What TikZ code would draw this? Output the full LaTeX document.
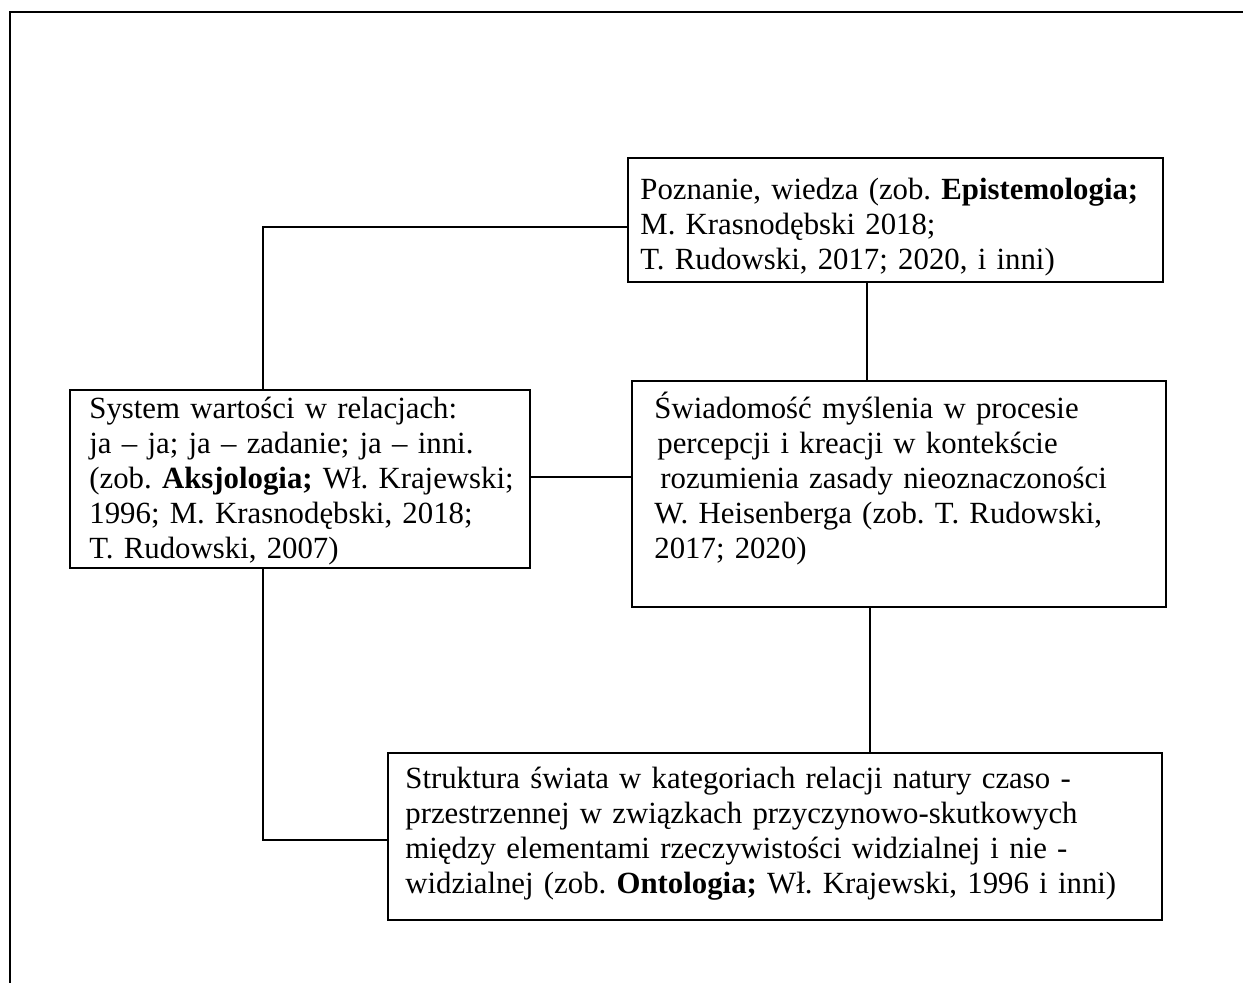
\documentclass[tikz,border=0pt]{standalone}
\usepackage{fontspec}
\setmainfont{Liberation Serif}
\begin{document}
\frenchspacing
\begin{tikzpicture}[x=0.5pt,y=-0.5pt,
  box/.style={draw, line width=0.9pt, anchor=north west, inner sep=0pt, outer sep=0pt},
  txt/.style={anchor=base west, inner sep=0pt, align=left, text width=450pt, font=\fontsize{15.4}{17.5}\selectfont\frenchspacing},
  conn/.style={line width=0.9pt}]
\useasboundingbox (0,0) rectangle (1243,983);
\draw[conn] (1243,12) -- (10,12) -- (10,983);
% boxes
\node[box, minimum width=267.5pt, minimum height=62pt] (top) at (628,158) {};
\node[box, minimum width=230pt, minimum height=89pt] (left) at (70,390) {};
\node[box, minimum width=267pt, minimum height=113pt] (right) at (632,381) {};
\node[box, minimum width=387pt, minimum height=83.5pt] (bottom) at (388,753) {};
% texts
\node[txt] (toptext) at (640,200) {Poznanie, wiedza (zob. \textbf{Epistemologia;}\\M. Krasnodębski 2018;\\T. Rudowski, 2017; 2020, i inni)};
\node[txt] (lefttext) at (89,419) {System wartości w relacjach:\\ja – ja; ja – zadanie; ja – inni.\\(zob. \textbf{Aksjologia;} Wł. Krajewski;\\1996; M. Krasnodębski, 2018;\\T. Rudowski, 2007)};
\node[txt] (righttext) at (654,419) {Świadomość myślenia w procesie\\\hspace{1.5pt}percepcji i kreacji w kontekście\\\hspace{3pt}rozumienia zasady nieoznaczoności\\W. Heisenberga (zob. T. Rudowski,\\2017; 2020)};
\node[txt] (bottomtext) at (405,789) {Struktura świata w kategoriach relacji natury czaso -\\przestrzennej w związkach przyczynowo-skutkowych\\między elementami rzeczywistości widzialnej i nie -\\widzialnej (zob. \textbf{Ontologia;} Wł. Krajewski, 1996 i inni)};
% connectors
\draw[conn] (top.west |- 0,227) -| (left.north -| 263,0);
\draw[conn] (top.south -| 867,0) -- (right.north -| 867,0);
\draw[conn] (left.east |- 0,477) -- (right.west |- 0,477);
\draw[conn] (right.south -| 870,0) -- (bottom.north -| 870,0);
\draw[conn] (left.south -| 263,0) |- (bottom.west |- 0,840);
\end{tikzpicture}
\end{document}
